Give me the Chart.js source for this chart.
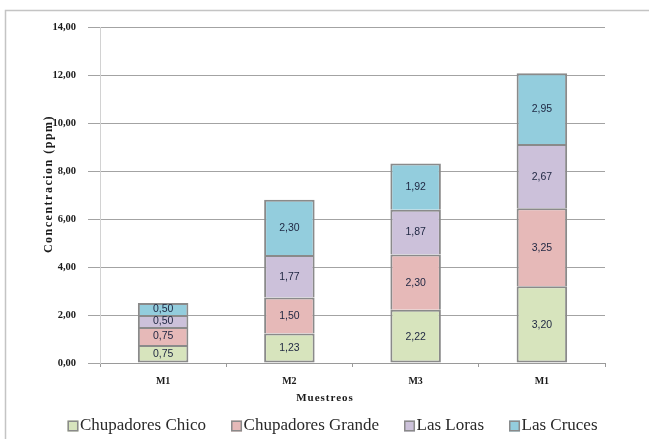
<!DOCTYPE html>
<html lang="es">
<head>
<meta charset="utf-8">
<title>Concentración por muestreo</title>
<script src="https://cdn.jsdelivr.net/npm/chart.js@4.4.1/dist/chart.umd.min.js"></script>
<style>
  html, body { margin: 0; padding: 0; background: #ffffff; }
  #wrap { width: 649px; height: 439px; }
</style>
</head>
<body>
<div id="wrap"><canvas id="chart" width="649" height="439"></canvas></div>
<script>
// Sampling campaigns (x axis)
const muestreos = ['M1', 'M2', 'M3', 'M1'];

// Concentration per site, ppm
const chupadoresChico  = [0.75, 1.23, 2.22, 3.20];
const chupadoresGrande = [0.75, 1.50, 2.30, 3.25];
const lasLoras         = [0.50, 1.77, 1.87, 2.67];
const lasCruces        = [0.50, 2.30, 1.92, 2.95];

const serieNombres = ['Chupadores Chico', 'Chupadores Grande', 'Las Loras', 'Las Cruces'];
const serieValores = [chupadoresChico, chupadoresGrande, lasLoras, lasCruces];
const serieColores = ['#d7e4bd', '#e6b9b8', '#ccc1da', '#93cddd'];

// Y axis range
const yMin = 0, yMax = 14, yPaso = 2;

const coma = v => v.toFixed(2).replace('.', ',');

const SERIF = '"Liberation Serif", "DejaVu Serif", serif';

// Value labels centred in every stacked segment
const etiquetasValor = {
  id: 'etiquetasValor',
  afterDatasetsDraw(chart) {
    const ctx = chart.ctx;
    ctx.save();
    ctx.font = '10.5px "Liberation Sans", Arial, sans-serif';
    ctx.fillStyle = '#1d2540';
    ctx.textAlign = 'center';
    ctx.textBaseline = 'middle';
    chart.data.datasets.forEach((ds, i) => {
      const meta = chart.getDatasetMeta(i);
      meta.data.forEach((bar, j) => {
        const p = bar.getProps(['x', 'y', 'base'], true);
        ctx.fillText(coma(ds.data[j]), p.x, (p.y + p.base) / 2 + 0.5);
      });
    });
    ctx.restore();
  }
};

// Outer frame, axis titles and legend row
const marcoYLeyenda = {
  id: 'marcoYLeyenda',
  beforeDraw(chart) {
    const ctx = chart.ctx;
    ctx.save();
    ctx.fillStyle = '#ffffff';
    ctx.fillRect(0, 0, chart.width, chart.height);
    ctx.strokeStyle = '#c4c4c4';
    ctx.lineWidth = 1.5;
    ctx.beginPath();
    ctx.moveTo(5.5, chart.height);
    ctx.lineTo(5.5, 10.5);
    ctx.lineTo(chart.width, 10.5);
    ctx.stroke();
    ctx.restore();
  },
  afterDraw(chart) {
    const ctx = chart.ctx;
    const area = chart.chartArea;
    ctx.save();
    ctx.fillStyle = '#1a1a1a';
    ctx.textAlign = 'center';
    ctx.textBaseline = 'middle';

    // Y axis title
    ctx.save();
    ctx.translate(49, (area.top + area.bottom) / 2 - 11);
    ctx.rotate(-Math.PI / 2);
    ctx.font = 'bold 12px ' + SERIF;
    ctx.letterSpacing = '1.5px';
    ctx.fillText('Concentracion (ppm)', 0, 0);
    ctx.restore();

    // X axis title
    ctx.save();
    ctx.font = 'bold 11px ' + SERIF;
    ctx.letterSpacing = '1px';
    ctx.fillText('Muestreos', 325, 398);
    ctx.restore();

    // Legend
    ctx.font = '17px ' + SERIF;
    ctx.textAlign = 'left';
    const caja = 11, hueco = 1.5, sep = 25;
    const items = chart.data.datasets.map(ds => ({
      texto: ds.label, color: ds.backgroundColor, w: caja + hueco + ctx.measureText(ds.label).width
    }));
    const total = items.reduce((s, it) => s + it.w, 0) + sep * (items.length - 1);
    let x = 332.5 - total / 2;
    const yc = 426;
    items.forEach(it => {
      ctx.fillStyle = it.color;
      ctx.fillRect(x, yc - caja / 2, caja, caja);
      ctx.strokeStyle = '#8a8a8a';
      ctx.lineWidth = 1.5;
      ctx.strokeRect(x + 0.75, yc - caja / 2 + 0.75, caja - 1.5, caja - 1.5);
      ctx.fillStyle = '#2a2a2a';
      ctx.fillText(it.texto, x + caja + hueco, yc);
      x += it.w + sep;
    });
    ctx.restore();
  }
};

new Chart(document.getElementById('chart'), {
  type: 'bar',
  data: {
    labels: muestreos,
    datasets: serieNombres.map((n, i) => ({
      label: n,
      data: serieValores[i],
      backgroundColor: serieColores[i],
      borderColor: '#8a8a8a',
      borderWidth: 2,
      // the lower segment already draws the shared edge
      borderSkipped: i === 0 ? false : 'bottom',
      categoryPercentage: 1,
      barPercentage: 0.4
    }))
  },
  options: {
    responsive: false,
    animation: false,
    devicePixelRatio: 1,
    layout: { padding: { left: 0, top: 27, right: 44, bottom: 46 } },
    plugins: {
      legend: { display: false },
      tooltip: { enabled: false },
      title: { display: false }
    },
    scales: {
      x: {
        stacked: true,
        afterFit(scale) { scale.height = 30; },
        grid: {
          offset: true,
          drawOnChartArea: false,
          drawTicks: true,
          tickLength: 4,
          tickColor: '#9a9a9a'
        },
        border: { display: true, color: '#9a9a9a', width: 1 },
        ticks: {
          padding: 8,
          color: '#1a1a1a',
          font: { family: SERIF, size: 10, weight: 'bold' }
        }
      },
      y: {
        stacked: true,
        min: yMin,
        max: yMax,
        afterFit(scale) { scale.width = 100; },
        grid: {
          color: '#a3a3a3',
          lineWidth: 1,
          drawTicks: true,
          tickLength: 12,
          tickColor: '#a3a3a3'
        },
        border: { display: true, color: '#d2d2d2', width: 1 },
        ticks: {
          stepSize: yPaso,
          padding: 12,
          color: '#1a1a1a',
          font: { family: SERIF, size: 10.5, weight: 'bold' },
          callback: v => coma(v)
        }
      }
    }
  },
  plugins: [marcoYLeyenda, etiquetasValor]
});
</script>
</body>
</html>
